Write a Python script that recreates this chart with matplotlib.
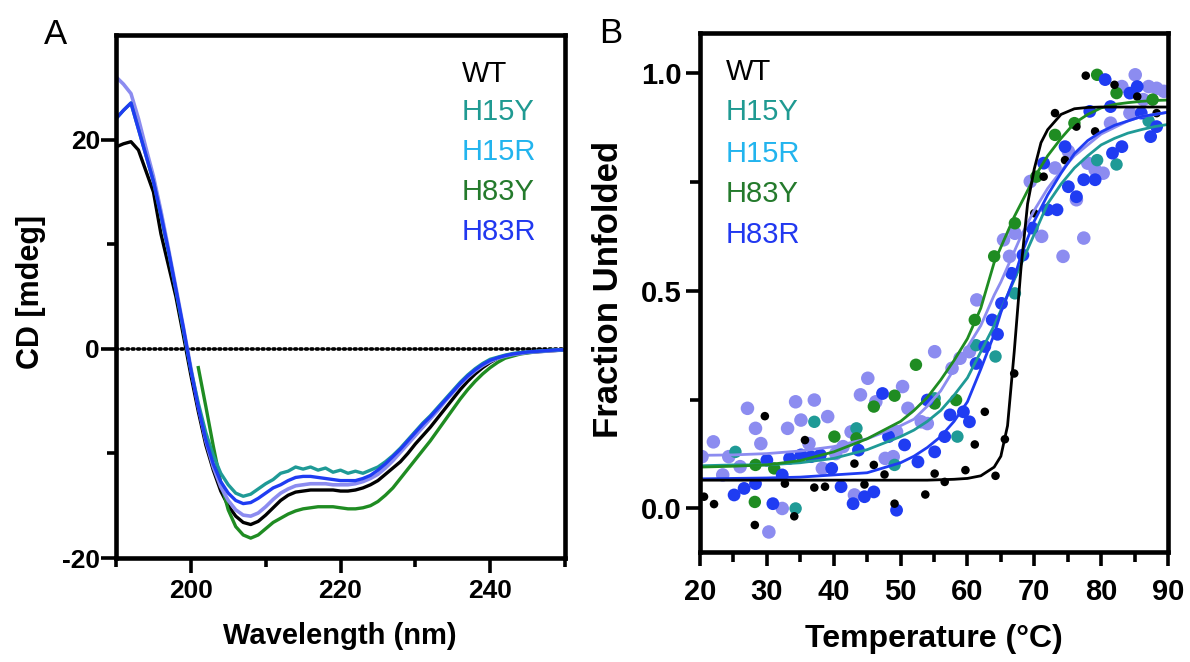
import matplotlib
matplotlib.use("Agg")
import matplotlib.pyplot as plt
from matplotlib.ticker import MultipleLocator, FixedLocator

plt.rcParams['font.family'] = ['Liberation Sans', 'DejaVu Sans']
plt.rcParams['axes.unicode_minus'] = False

# ---------------- Panel A: CD spectra ----------------
wl = list(range(190, 251))
cd_wt = [19.3, 19.6, 19.8, 19.0, 17.0, 15.0, 11.0, 8.0, 5.0, 1.3,
         -2.5, -6.0, -9.2, -11.6, -13.6, -15.0, -16.0, -16.6, -16.8, -16.5,
         -15.9, -15.2, -14.5, -14.0, -13.7, -13.6, -13.5, -13.5, -13.5, -13.5,
         -13.6, -13.6, -13.5, -13.3, -13.0, -12.6, -12.0, -11.4, -10.8, -10.0,
         -9.1, -8.3, -7.5, -6.6, -5.7, -4.8, -3.9, -3.1, -2.4, -1.8,
         -1.3, -0.9, -0.7, -0.55, -0.45, -0.35, -0.3, -0.25, -0.2, -0.15, -0.1]
cd_h15y = [22.0, 22.8, 23.5, 21.0, 18.5, 16.0, 12.7, 9.3, 5.6, 1.8,
           -2.0, -5.2, -8.0, -10.2, -11.9, -13.0, -13.8, -14.1, -13.9, -13.4,
           -12.9, -12.5, -11.9, -11.7, -11.3, -11.5, -11.3, -11.6, -11.4, -11.8,
           -11.6, -11.9, -11.7, -11.9, -11.6, -11.3, -10.8, -10.2, -9.5, -8.7,
           -7.9, -7.1, -6.4, -5.6, -4.8, -4.0, -3.2, -2.5, -1.9, -1.4,
           -1.0, -0.8, -0.6, -0.45, -0.35, -0.3, -0.25, -0.2, -0.15, -0.1, -0.1]
cd_h15r = [26.0, 25.3, 24.4, 22.0, 19.2, 16.5, 13.2, 9.6, 5.9, 2.1,
           -1.8, -5.5, -8.8, -11.3, -13.2, -14.5, -15.4, -15.9, -16.0, -15.7,
           -15.1, -14.4, -13.8, -13.4, -13.1, -13.0, -12.9, -12.9, -12.9, -13.0,
           -13.0, -13.0, -12.9, -12.7, -12.4, -12.0, -11.4, -10.7, -9.9, -9.1,
           -8.3, -7.5, -6.7, -5.9, -5.0, -4.2, -3.4, -2.7, -2.1, -1.6,
           -1.2, -0.9, -0.7, -0.55, -0.45, -0.35, -0.3, -0.25, -0.2, -0.15, -0.1]
wl_h83y = list(range(201, 251))
cd_h83y = [-1.8, -5.5, -9.3, -12.8, -15.4, -17.0, -17.8, -18.1, -17.8, -17.2,
           -16.6, -16.2, -15.8, -15.5, -15.3, -15.2, -15.1, -15.1, -15.1, -15.2,
           -15.3, -15.3, -15.2, -15.0, -14.6, -14.0, -13.3, -12.4, -11.5, -10.6,
           -9.7, -8.8, -7.8, -6.8, -5.8, -4.8, -3.9, -3.1, -2.4, -1.8,
           -1.3, -0.9, -0.7, -0.5, -0.4, -0.3, -0.2, -0.15, -0.1, -0.1]
cd_h83r = [22.0, 22.8, 23.5, 21.0, 18.5, 16.0, 12.8, 9.4, 5.7, 2.0,
           -2.0, -5.6, -8.7, -11.0, -12.7, -13.8, -14.5, -14.8, -14.7, -14.3,
           -13.8, -13.3, -13.0, -12.6, -12.3, -12.2, -12.2, -12.3, -12.4, -12.5,
           -12.6, -12.6, -12.6, -12.4, -12.1, -11.6, -11.0, -10.3, -9.6, -8.8,
           -8.0, -7.2, -6.5, -5.7, -4.9, -4.1, -3.3, -2.6, -2.0, -1.5,
           -1.1, -0.85, -0.65, -0.5, -0.4, -0.3, -0.25, -0.2, -0.15, -0.1, -0.1]

# ---------------- Panel B: thermal melts ----------------
wt_T = [20.6, 22.1, 29.7, 28.2, 34.1, 35.7, 32.7, 37.1, 38.7, 43.1, 44.6, 46.0,
        47.6, 49.1, 53.7, 55.1, 56.6, 59.7, 61.1, 62.6, 64.2, 65.6, 67.0,
        70.0, 71.4, 73.1, 74.6, 76.3, 77.7, 79.1, 82.0, 85.4, 88.3]
wt_f = [0.027, 0.010, 0.212, -0.038, -0.018, 0.157, 0.057, 0.048, 0.050, 0.103, 0.055, 0.100,
        0.078, 0.011, 0.032, 0.080, 0.061, 0.088, 0.147, 0.222, 0.075, 0.159, 0.310,
        0.678, 0.762, 0.908, 0.800, 0.877, 0.994, 0.866, 0.973, 0.946, 0.908]

h15y_T = [25.3, 37.1, 34.3, 43.4, 49.1, 55.1, 58.5, 61.3, 64.2, 67.1, 79.4, 82.3, 87.1]
h15y_f = [0.130, 0.199, 0.000, 0.184, 0.100, 0.253, 0.165, 0.375, 0.349, 0.494, 0.800, 0.790, 0.890]

h83y_T = [28.2, 28.3, 31.1, 40.1, 43.4, 46.0, 49.1, 52.3, 55.1, 58.3,
          61.1, 64.0, 67.1, 70.3, 73.1, 76.0, 79.4, 82.3, 87.7]
h83y_f = [0.015, 0.100, 0.092, 0.165, 0.161, 0.234, 0.259, 0.330, 0.241, 0.249,
          0.433, 0.579, 0.655, 0.762, 0.858, 0.885, 0.996, 0.954, 0.939]

h83r_T = [25.1, 26.6, 28.3, 30.0, 30.9, 32.3, 33.4, 35.1, 36.6, 38.0, 39.7, 41.1, 42.9,
          43.7, 44.6, 46.0, 47.3, 48.2, 49.4, 50.6, 52.6, 54.0, 55.1, 56.6, 57.4, 59.4,
          60.3, 61.3, 62.6, 64.5, 63.7, 65.1, 66.6, 68.3, 69.7, 71.4, 72.0, 73.4, 74.6,
          75.1, 76.3, 77.4, 78.3, 79.1, 80.6, 81.4, 81.7, 83.1, 84.3, 85.4, 86.0, 87.4, 88.3]
h83r_f = [0.031, 0.046, 0.057, 0.111, 0.011, 0.077, 0.115, 0.123, 0.119, 0.123, 0.092, 0.050, 0.011,
          0.134, 0.027, 0.038, 0.264, 0.165, -0.004, 0.146, 0.107, 0.249, 0.130, 0.165, 0.215, 0.222,
          0.199, 0.333, 0.372, 0.400, 0.433, 0.471, 0.540, 0.582, 0.644, 0.793, 0.686, 0.686, 0.831,
          0.739, 0.716, 0.755, 0.912, 0.755, 0.985, 0.923, 0.816, 0.831, 0.954, 0.969, 0.908, 0.854, 0.877]

h15r_T = [20.3, 22.0, 23.4, 24.3, 26.0, 27.1, 28.3, 29.1, 30.3, 32.3, 33.1, 34.3, 35.1,
          36.3, 37.1, 38.3, 39.1, 40.3, 41.4, 42.6, 43.1, 44.0, 45.1, 46.3, 47.7, 48.9,
          49.4, 50.3, 51.1, 53.1, 54.0, 55.1, 57.7, 58.9, 60.3, 61.4, 65.4, 66.3, 67.1,
          69.4, 71.1, 73.1, 74.3, 75.1, 76.3, 77.4, 78.0, 79.1, 80.3, 81.4, 83.1, 84.3,
          85.1, 86.3, 87.1, 88.3, 89.4]
h15r_f = [0.119, 0.153, 0.077, 0.119, 0.096, 0.230, 0.184, 0.149, -0.054, 0.000, 0.184, 0.245, 0.203,
          0.149, 0.249, 0.092, 0.211, 0.126, 0.142, 0.176, 0.031, 0.261, 0.299, 0.245, 0.115, 0.119,
          0.176, 0.280, 0.230, 0.199, 0.195, 0.360, 0.322, 0.345, 0.360, 0.479, 0.617, 0.579, 0.632,
          0.751, 0.625, 0.782, 0.579, 0.820, 0.709, 0.621, 0.793, 0.778, 0.770, 0.885, 0.969, 0.908,
          0.996, 0.939, 0.969, 0.965, 0.958]

fit_T = [20, 25, 30, 35, 40, 45, 50, 52, 54, 56, 58, 60, 62, 64, 65, 66, 67, 68, 69, 70,
         71, 72, 74, 76, 78, 80, 82, 84, 86, 88, 90]
fit_wt = [0.065, 0.065, 0.065, 0.065, 0.065, 0.065, 0.065, 0.065, 0.065, 0.066, 0.067, 0.069,
          0.075, 0.095, 0.12, 0.19, 0.36, 0.55, 0.70, 0.78, 0.84, 0.87, 0.905, 0.918, 0.921,
          0.922, 0.922, 0.922, 0.922, 0.922, 0.922]
fit_h15y = [0.098, 0.100, 0.100, 0.105, 0.115, 0.135, 0.165, 0.180, 0.200, 0.225, 0.260, 0.300,
            0.360, 0.420, 0.455, 0.490, 0.525, 0.560, 0.595, 0.630, 0.665, 0.700, 0.745, 0.782,
            0.810, 0.835, 0.850, 0.862, 0.870, 0.877, 0.882]
fit_h15r = [0.122, 0.123, 0.126, 0.132, 0.142, 0.160, 0.190, 0.205, 0.235, 0.270, 0.320, 0.370,
            0.420, 0.490, 0.520, 0.555, 0.590, 0.625, 0.655, 0.685, 0.710, 0.735, 0.775, 0.810,
            0.835, 0.860, 0.875, 0.890, 0.900, 0.905, 0.910]
fit_h83y = [0.095, 0.097, 0.100, 0.110, 0.130, 0.160, 0.200, 0.225, 0.255, 0.295, 0.340, 0.390,
            0.460, 0.565, 0.600, 0.635, 0.670, 0.700, 0.730, 0.760, 0.785, 0.810, 0.850, 0.885,
            0.905, 0.920, 0.928, 0.932, 0.935, 0.937, 0.938]
fit_h83r = [0.068, 0.069, 0.070, 0.072, 0.077, 0.082, 0.105, 0.120, 0.140, 0.165, 0.200, 0.245,
            0.320, 0.400, 0.450, 0.490, 0.530, 0.580, 0.620, 0.660, 0.690, 0.720, 0.770, 0.815,
            0.845, 0.865, 0.880, 0.890, 0.900, 0.905, 0.910]

legend_names = ['WT', 'H15Y', 'H15R', 'H83Y', 'H83R']

# colours
C_WT = '#000000'
C_H15Y = '#1f9a96'
C_H15R = '#8c8cf0'
C_H83Y = '#1f8c22'
C_H83R = '#1f3cf2'
LEG_COLORS = ['#000000', '#1f9a92', '#22b4ee', '#247a2c', '#2138f0']

W, H = 1190, 662
fig = plt.figure(figsize=(W / 100, H / 100), dpi=100)


def fx(px):
    return px / W


def fy(py):
    return 1 - py / H


axA = fig.add_axes([fx(116), fy(558), 449 / W, 523 / H])
axB = fig.add_axes([fx(700), fy(552), 468 / W, 519 / H])

for ax in (axA, axB):
    for sp in ax.spines.values():
        sp.set_linewidth(3.3)
        sp.set_zorder(10)

# ----- Panel A -----
axA.axhline(0, color='black', lw=2.6, linestyle=(0, (0.5, 1.0)),
            dash_capstyle='round', zorder=1)
axA.plot(wl, cd_wt, color=C_WT, lw=2.4, zorder=2)
axA.plot(wl_h83y, cd_h83y, color=C_H83Y, lw=2.4, zorder=2)
axA.plot(wl, cd_h15r, color=C_H15R, lw=2.6, zorder=3)
axA.plot(wl, cd_h15y, color=C_H15Y, lw=2.4, zorder=4)
axA.plot(wl, cd_h83r, color=C_H83R, lw=2.4, zorder=5)
axA.set_xlim(190, 250)
axA.set_ylim(-20, 30)
axA.xaxis.set_major_locator(FixedLocator([200, 220, 240]))
axA.xaxis.set_minor_locator(FixedLocator([190, 210, 230, 250]))
axA.yaxis.set_major_locator(FixedLocator([-20, 0, 20]))
axA.yaxis.set_minor_locator(FixedLocator([-10, 10]))
axA.tick_params(axis='both', which='major', width=2.6, length=11)
axA.tick_params(axis='both', which='minor', width=2.6, length=6.5)
axA.tick_params(axis='x', which='major', pad=4, labelsize=19)
axA.tick_params(axis='y', which='major', pad=0.5, labelsize=19)
for lab in axA.get_xticklabels() + axA.get_yticklabels():
    lab.set_fontweight('bold')

# ----- Panel B -----
series = [
    (h15r_T, h15r_f, C_H15R, 95),
    (h15y_T, h15y_f, C_H15Y, 80),
    (h83y_T, h83y_f, C_H83Y, 80),
    (h83r_T, h83r_f, C_H83R, 85),
    (wt_T, wt_f, C_WT, 38),
]
for T, f, c, s in series:
    axB.scatter(T, f, s=s, color=c, edgecolors='none', zorder=3)

axB.plot(fit_T, fit_h15r, color=C_H15R, lw=2.0, zorder=4)
axB.plot(fit_T, fit_h15y, color=C_H15Y, lw=2.0, zorder=4)
axB.plot(fit_T, fit_h83y, color=C_H83Y, lw=2.0, zorder=4)
axB.plot(fit_T, fit_h83r, color=C_H83R, lw=2.0, zorder=4)
axB.plot(fit_T, fit_wt, color=C_WT, lw=2.0, zorder=4)

axB.set_xlim(20, 90)
axB.set_ylim(-0.1, 1.092)
axB.xaxis.set_major_locator(MultipleLocator(10))
axB.xaxis.set_minor_locator(MultipleLocator(5))
axB.yaxis.set_major_locator(FixedLocator([0.0, 0.5, 1.0]))
axB.yaxis.set_minor_locator(FixedLocator([0.25, 0.75]))
axB.set_yticklabels(['0.0', '0.5', '1.0'])
axB.tick_params(axis='both', which='major', width=2.6, length=10)
axB.tick_params(axis='both', which='minor', width=2.6, length=7)
axB.tick_params(axis='x', which='major', pad=9, labelsize=21)
axB.tick_params(axis='y', which='major', pad=3, labelsize=21)
for lab in axB.get_xticklabels() + axB.get_yticklabels():
    lab.set_fontweight('bold')

# ----- axis labels -----
fig.text(fx(340), fy(644), 'Wavelength (nm)', ha='center', va='baseline',
         fontsize=21, fontweight='bold')
fig.text(fx(934), fy(647), 'Temperature (\u00b0C)', ha='center', va='baseline',
         fontsize=23, fontweight='bold')
fig.text(fx(31), fy(292), 'CD [mdeg]', ha='center', va='center', rotation=90,
         fontsize=22, fontweight='bold')
fig.text(fx(609), fy(289), 'Fraction Unfolded', ha='center', va='center', rotation=90,
         fontsize=25, fontweight='bold')

# ----- panel letters -----
fig.text(fx(44), fy(44), 'A', ha='left', va='baseline', fontsize=25)
fig.text(fx(599), fy(43), 'B', ha='left', va='baseline', fontsize=25)

# ----- legends as coloured text -----
legA_base = [82, 120, 160, 200, 240]
legB_base = [80, 120, 162, 202, 243]
for name, c, ya, yb in zip(legend_names, LEG_COLORS, legA_base, legB_base):
    fig.text(fx(462), fy(ya), name, color=c, ha='left', va='baseline', fontsize=21)
    fig.text(fx(726), fy(yb), name, color=c, ha='left', va='baseline', fontsize=21)

fig.savefig('out.png', dpi=100)
